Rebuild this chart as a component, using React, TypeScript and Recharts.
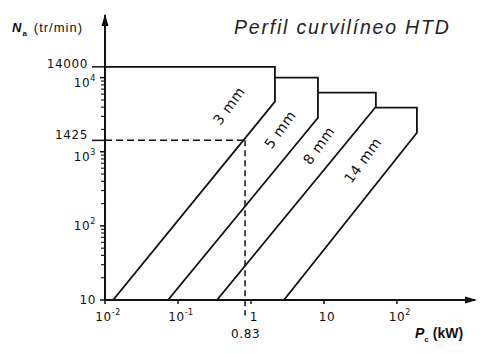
import React from 'react';
import { LineChart, Line, XAxis, YAxis, ReferenceLine, ReferenceDot } from 'recharts';

// Límites de potencia / velocidad para cada paso de correa HTD (escala log-log)
const pasos = ['3 mm', '5 mm', '8 mm', '14 mm'];
const pcInicio = [0.0129, 0.073, 0.342, 2.83]; // P (kW) con N = 10 tr/min
const pcFinal = [2.13, 8.28, 51.5, 188]; // P (kW) al final de la recta
const nFinalRecta = [4740, 2875, 4050, 1807]; // N (tr/min) al final de la recta
const nMaximo = [14000, 10000, 6270, 3936]; // N del tramo horizontal
const pcTramoIzq = [0.01, 2.13, 8.28, 51.5]; // donde empieza el tramo horizontal

// posición de los rótulos de cada paso
const rotuloPc = [0.5, 2.5, 8.5, 34];
const rotuloN = [4200, 2000, 1220, 770];

// ejemplo marcado con líneas de trazos
const nEjemplo = 1425;
const pcEjemplo = 0.83;

const xTicks = [0.01, 0.1, 1, 10, 100];
const xTickBase = ['10', '10', '1', '10', '10'];
const xTickExp = ['-2', '-1', '', '', '2'];

const yMayores = [10, 100, 1000, 10000];
const yExp = ['', '2', '3', '4'];
const yEspeciales = [nEjemplo, 14000];
const yMenores = [20, 30, 40, 50, 60, 70, 80, 90, 200, 300, 400, 500, 600, 700, 800, 900,
  2000, 3000, 4000, 5000, 6000, 7000, 8000, 9000];

const yTicks = [...yMayores, ...yEspeciales].sort((a, b) => a - b);

const X_DOMAIN = [0.01, 1175];
const Y_DOMAIN = [10, 70000];

const series = pasos.map((p, i) => ({
  nombre: p,
  datos: [
    { x: pcInicio[i], y: 10 },
    { x: pcFinal[i], y: nFinalRecta[i] },
    { x: pcFinal[i], y: nMaximo[i] },
    { x: pcTramoIzq[i], y: nMaximo[i] },
  ],
}));

const FONT = '"DejaVu Sans", sans-serif';

function YTick({ x, y, payload }: any) {
  const v = payload.value;
  const iMayor = yMayores.indexOf(v);
  if (yEspeciales.includes(v)) {
    return (
      <g>
        <line x1={x - 13} x2={x} y1={y} y2={y} stroke="#111" strokeWidth={1.5} />
        <text x={x - 17} y={y} dy={v === 14000 ? 1 : -1} textAnchor="end" fontSize={12} fontFamily={FONT} letterSpacing={0.6} fill="#111">
          {v}
        </text>
      </g>
    );
  }
  const dy = v === 10000 ? 9 : v === 1000 ? 9 : 4;
  return (
    <g>
      <line x1={x - 5} x2={x} y1={y} y2={y} stroke="#111" strokeWidth={1.5} />
      <text x={x - 9} y={y} dy={dy} textAnchor="end" fontSize={12} fontFamily={FONT} letterSpacing={0.6} fill="#111">
        10
        {yExp[iMayor] && <tspan dy={-6} fontSize={8}>{yExp[iMayor]}</tspan>}
      </text>
    </g>
  );
}

function XTick({ x, y, payload }: any) {
  const i = xTicks.indexOf(payload.value);
  return (
    <g>
      <line x1={x} x2={x} y1={y} y2={y + 4} stroke="#111" strokeWidth={1.5} />
      <text x={x + 3} y={y + 21} textAnchor="middle" fontSize={12} fontFamily={FONT} letterSpacing={0.6} fill="#111">
        {xTickBase[i]}
        {xTickExp[i] && <tspan dy={-6} fontSize={8}>{xTickExp[i]}</tspan>}
      </text>
    </g>
  );
}

export default function App() {
  return (
    <div style={{ position: 'absolute', left: 0, top: 0, width: 500, height: 353, background: '#fff' }}>
      <LineChart width={500} height={353} margin={{ top: 15, right: 25, bottom: 23, left: 0 }}>
        <XAxis
          dataKey="x"
          type="number"
          scale="log"
          domain={X_DOMAIN}
          allowDataOverflow
          ticks={xTicks}
          tick={<XTick />}
          tickLine={false}
          tickSize={0}
          tickMargin={0}
          height={30}
          axisLine={{ stroke: '#111', strokeWidth: 2 }}
        />
        <YAxis
          dataKey="y"
          type="number"
          scale="log"
          domain={Y_DOMAIN}
          allowDataOverflow
          ticks={yTicks}
          interval={0}
          tick={<YTick />}
          tickLine={false}
          tickSize={0}
          tickMargin={0}
          width={105}
          axisLine={{ stroke: '#111', strokeWidth: 2 }}
        />
        {series.map((s) => (
          <Line
            key={s.nombre}
            data={s.datos}
            dataKey="y"
            type="linear"
            stroke="#111"
            strokeWidth={1.8}
            dot={false}
            isAnimationActive={false}
          />
        ))}
        {/* marcas secundarias del eje vertical */}
        {yMenores.map((v) => (
          <ReferenceDot
            key={`m-${v}`}
            x={X_DOMAIN[0]}
            y={v}
            r={0}
            ifOverflow="visible"
            shape={(props: any) => (
              <line x1={props.cx - 4} x2={props.cx} y1={props.cy} y2={props.cy} stroke="#222" strokeWidth={1.2} />
            )}
          />
        ))}
        <ReferenceLine
          segment={[{ x: X_DOMAIN[0], y: nEjemplo }, { x: pcEjemplo, y: nEjemplo }]}
          stroke="#111"
          strokeWidth={1.5}
          strokeDasharray="7 4"
          ifOverflow="visible"
        />
        <ReferenceLine
          segment={[{ x: pcEjemplo, y: nEjemplo }, { x: pcEjemplo, y: 6.2 }]}
          stroke="#111"
          strokeWidth={1.5}
          strokeDasharray="6 4"
          ifOverflow="visible"
        />
        {pasos.map((p, i) => (
          <ReferenceDot
            key={p}
            x={rotuloPc[i]}
            y={rotuloN[i]}
            r={0}
            ifOverflow="visible"
            shape={(props: any) => (
              <text
                x={props.cx}
                y={props.cy}
                dy={5}
                transform={`rotate(-54 ${props.cx} ${props.cy})`}
                textAnchor="middle"
                fontSize={14}
                fontFamily={FONT}
                letterSpacing={0.6}
                fill="#111"
              >
                {p}
              </text>
            )}
          />
        ))}
        {/* flechas de los ejes */}
        <ReferenceDot
          x={X_DOMAIN[1]}
          y={Y_DOMAIN[0]}
          r={0}
          ifOverflow="visible"
          shape={(props: any) => (
            <path d={`M${props.cx + 2},${props.cy} l-12,-3.5 l0,7 z`} fill="#111" />
          )}
        />
        <ReferenceDot
          x={X_DOMAIN[0]}
          y={Y_DOMAIN[1]}
          r={0}
          ifOverflow="visible"
          shape={(props: any) => (
            <path d={`M${props.cx},${props.cy - 1} l-3.5,12 l7,0 z`} fill="#111" />
          )}
        />
      </LineChart>

      <div style={{ position: 'absolute', left: 234, top: 16, fontFamily: '"Liberation Sans", Arial, sans-serif', fontStyle: 'italic', fontSize: 19.5, letterSpacing: 1.8, color: '#222', whiteSpace: 'nowrap' }}>
        Perfil curvilíneo HTD
      </div>
      <div style={{ position: 'absolute', left: 12, top: 20, fontFamily: '"Liberation Sans", Arial, sans-serif', fontSize: 13, letterSpacing: 1, color: '#111', whiteSpace: 'nowrap' }}>
        <b><i>N</i></b>
        <sub style={{ fontSize: 8, fontWeight: 'bold' }}>a</sub>
        <span style={{ marginLeft: 6 }}>(tr/min)</span>
      </div>
      <div style={{ position: 'absolute', left: 415, top: 325, fontFamily: '"Liberation Sans", Arial, sans-serif', fontSize: 14, fontWeight: 'bold', color: '#111', whiteSpace: 'nowrap' }}>
        <i>P</i>
        <sub style={{ fontSize: 8 }}>c</sub>
        <span style={{ marginLeft: 4 }}>(kW)</span>
      </div>
      <div style={{ position: 'absolute', left: 231, top: 327, fontFamily: FONT, fontSize: 12, letterSpacing: 0.6, color: '#111' }}>
        0.83
      </div>
    </div>
  );
}
